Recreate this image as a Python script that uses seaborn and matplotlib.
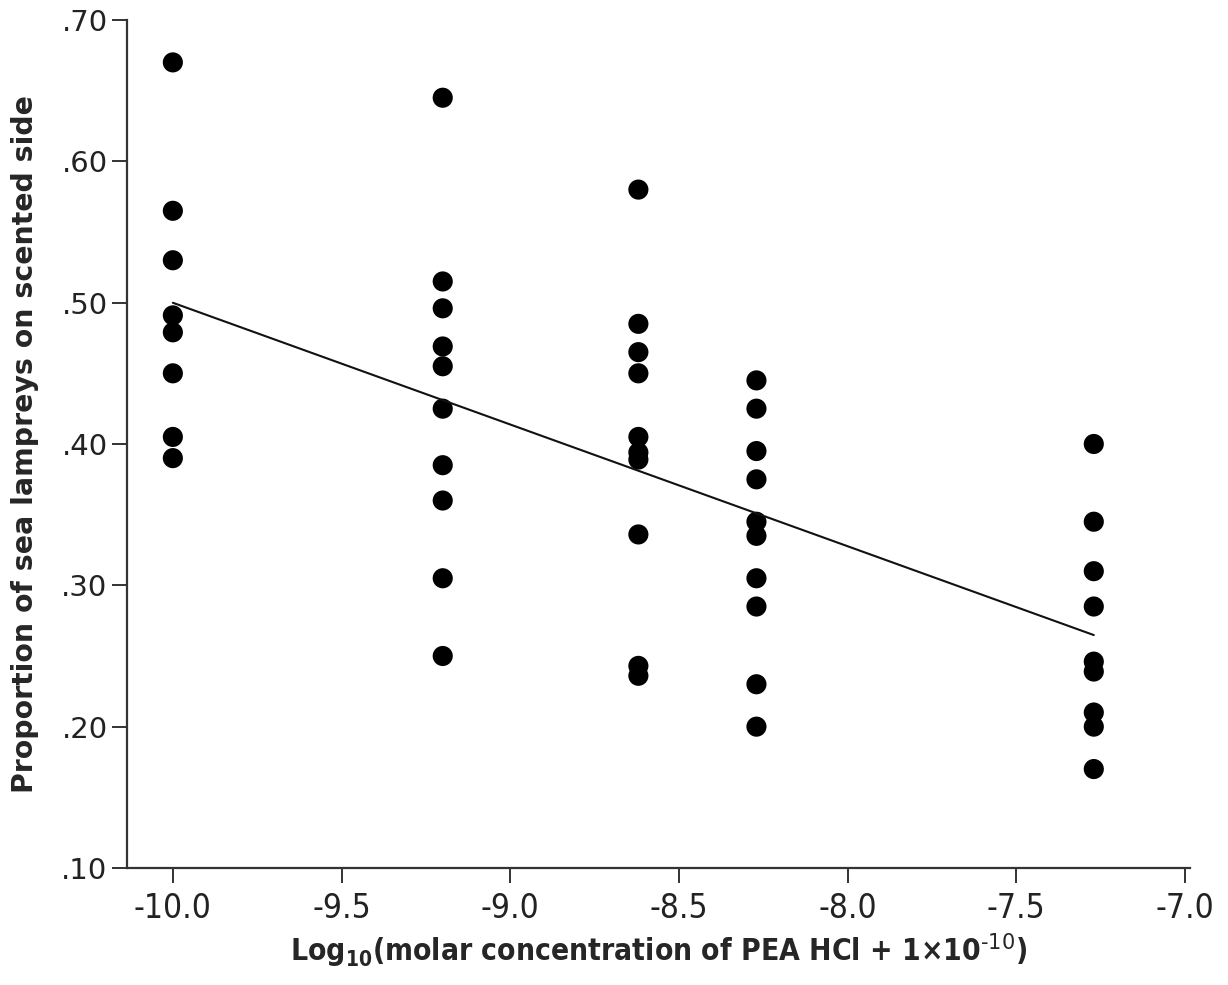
import numpy as np
import pandas as pd
import matplotlib
matplotlib.use("Agg")
import matplotlib.pyplot as plt
import seaborn as sns
from matplotlib.ticker import FuncFormatter

# log10 concentration groups and the proportions
conc = [-10.0, -9.2, -8.62, -8.27, -7.27]
prop_m10 = [0.670, 0.565, 0.530, 0.491, 0.479, 0.450, 0.405, 0.390]
prop_m92 = [0.645, 0.515, 0.496, 0.469, 0.455, 0.425, 0.385, 0.360, 0.305, 0.250]
prop_m862 = [0.580, 0.485, 0.465, 0.450, 0.405, 0.394, 0.389, 0.336, 0.243, 0.236]
prop_m827 = [0.445, 0.425, 0.395, 0.375, 0.345, 0.335, 0.305, 0.285, 0.230, 0.200]
prop_m727 = [0.400, 0.345, 0.310, 0.285, 0.246, 0.239, 0.210, 0.200, 0.170]

xticks = [-10.0, -9.5, -9.0, -8.5, -8.0, -7.5, -7.0]
yticks = [0.10, 0.20, 0.30, 0.40, 0.50, 0.60, 0.70]

groups = [prop_m10, prop_m92, prop_m862, prop_m827, prop_m727]
df = pd.DataFrame({
    "x": np.concatenate([[c] * len(g) for c, g in zip(conc, groups)]),
    "y": np.concatenate(groups),
})

sns.set_style("ticks")
plt.rcParams["font.family"] = ["DejaVu Sans"]
plt.rcParams["axes.unicode_minus"] = False
plt.rcParams["mathtext.default"] = "regular"

fig = plt.figure(figsize=(12.28, 9.85), dpi=100)
ax = fig.add_axes([0.1034, 0.1188, 0.8656, 0.8609])

# faint extension of the fit across the whole axis
sns.regplot(data=df, x="x", y="y", ax=ax, ci=None, scatter=False, truncate=False,
            line_kws={"color": "#dddddd", "lw": 1.0, "ls": ":"})
sns.regplot(data=df, x="x", y="y", ax=ax, ci=None, truncate=True,
            scatter_kws={"s": 210, "color": "black", "edgecolor": "none", "alpha": 1},
            line_kws={"color": "#111111", "lw": 1.5})

ax.set_xlim(-10.136, -6.985)
ax.set_ylim(0.10, 0.70)
ax.set_xticks(xticks)
ax.set_yticks(yticks)
ax.yaxis.set_major_formatter(FuncFormatter(lambda v, p: f"{v:.2f}".lstrip("0")))
ax.xaxis.set_major_formatter(FuncFormatter(lambda v, p: f"{v:.1f}"))

sns.despine(ax=ax)
for s in ["left", "bottom"]:
    ax.spines[s].set_linewidth(1.6)
    ax.spines[s].set_color("#333333")
ax.tick_params(axis="both", length=11, width=1.4, color="#333333", direction="out")
ax.tick_params(axis="y", labelsize=21, pad=3)
ax.tick_params(axis="x", pad=6)
for lab in ax.get_xticklabels():
    lab.set_fontstretch("condensed")
    lab.set_fontsize(24)
    lab.set_color("#222222")
for lab in ax.get_yticklabels():
    lab.set_color("#222222")

ax.set_xlabel(r"Log$_{10}$(molar concentration of PEA HCl + 1×10$^{\text{-10}}$)",
              fontstretch="condensed", fontsize=21.5, fontweight="bold", labelpad=5)
ax.set_ylabel("Proportion of sea lampreys on scented side",
              fontsize=20.4, fontweight="bold", labelpad=16)

fig.savefig("out.png", dpi=100)
